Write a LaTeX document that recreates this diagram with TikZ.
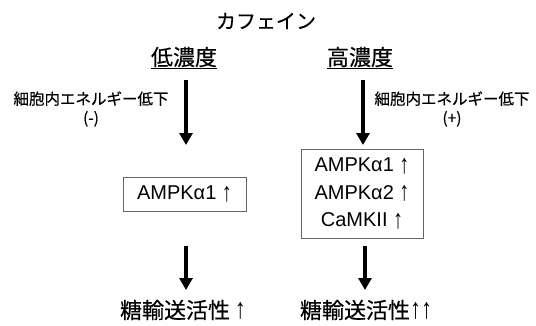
\documentclass[tikz,border=0pt]{standalone}
\usepackage{fontspec}
\setmainfont{Liberation Sans}
\newfontfamily\jp[FakeBold=0.4]{Noto Sans CJK JP}
\usetikzlibrary{arrows.meta}
\newcommand{\uparr}{{\rmfamily\raisebox{-1.5pt}{\scalebox{1}[1.35]{↑}}}}
\newcommand{\uparrb}{{\rmfamily\scalebox{1}[1.3]{↑}}}
\tikzset{
  flow/.style={line width=3.6pt,-{Triangle[width=13pt,length=12pt]}},
  kbox/.style={draw=black!60,line width=0.8pt,inner sep=0pt,align=center,font=\fontsize{20}{27.5}\selectfont},
  lbl/.style={font=\jp\fontsize{15.5}{19}\selectfont,align=center,inner sep=0pt},
  big/.style={inner sep=0pt,font=\jp\fontsize{22}{24}\selectfont},
}
\begin{document}
\begin{tikzpicture}[x=1pt,y=-1pt]
\useasboundingbox[fill=white] (0,0) rectangle (536,325);
\node[inner sep=0pt,font=\jp\fontsize{20}{22}\selectfont] (title) at (266,21) {カフェイン};
\node[big] (low) at (184,58) {\underline{低濃度}};
\node[big] (high) at (360,58) {\underline{高濃度}};
\coordinate (la1) at (186,80);
\coordinate (la2) at (186,145);
\coordinate (ra1) at (363,80);
\coordinate (ra2) at (363,145);
\draw[flow] (la1) -- (la2);
\draw[flow] (ra1) -- (ra2);
\node[lbl] (lt) at (91,109) {細胞内エネルギー低下\\(-)};
\node[lbl] (rt) at (452,109) {細胞内エネルギー低下\\(+)};
\node[kbox,minimum width=123pt,minimum height=34pt] (lbox) at (184.5,194) {AMPKα1 \uparr};
\node[kbox,minimum width=122pt,minimum height=89pt] (rbox) at (362,193.5) {AMPKα1 \uparr\\AMPKα2 \uparr\\CaMKII \uparr};
\node[big] (lres) at (183,310) {糖輸送活性 \uparrb};
\node[big] (rres) at (366,310) {糖輸送活性\uparrb\uparrb};
\coordinate (lb1) at (186,246);
\coordinate (rb1) at (365,246);
\draw[flow] (lb1) -- (lb1 |- 0,290);
\draw[flow] (rb1) -- (rb1 |- 0,290);
\end{tikzpicture}
\end{document}
